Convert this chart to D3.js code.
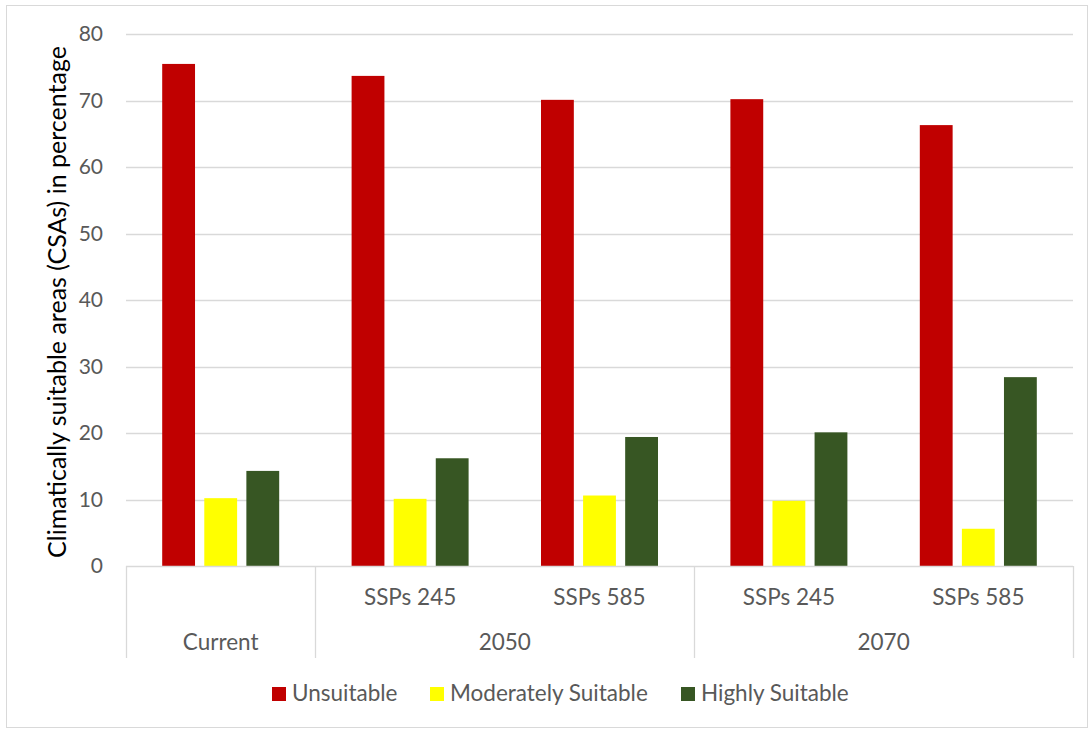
<!DOCTYPE html>
<html>
<head>
<meta charset="utf-8">
<script src="https://cdn.jsdelivr.net/npm/d3@7"></script>
<style>
  body { margin: 0; background: #fff; }
  text { font-family: Lato, 'Open Sans', sans-serif; fill: #595959; }
</style>
</head>
<body>
<svg id="chart" width="1090" height="730"></svg>
<script>
// data
const periods = ['Current', '2050', '2050', '2070', '2070'];
const scenarios = ['', 'SSPs 245', 'SSPs 585', 'SSPs 245', 'SSPs 585'];
const seriesNames = ['Unsuitable', 'Moderately Suitable', 'Highly Suitable'];
const seriesColors = ['#c00000', '#ffff00', '#375623'];
const unsuitable = [75.5, 73.7, 70.1, 70.2, 66.3];
const moderately = [10.2, 10.1, 10.6, 9.8, 5.6];
const highly = [14.3, 16.2, 19.4, 20.1, 28.4];
const yTicks = [0, 10, 20, 30, 40, 50, 60, 70, 80];

const svg = d3.select('#chart');
const margin = { top: 34, right: 17, bottom: 164, left: 126 };
const width = 1090 - margin.left - margin.right;
const height = 730 - margin.top - margin.bottom;

// outer frame
svg.append('rect').attr('x', 6.5).attr('y', 5.5).attr('width', 1081).attr('height', 722)
  .attr('fill', '#fff').attr('stroke', '#d9d9d9');

const g = svg.append('g').attr('transform', 'translate(' + margin.left + ',' + margin.top + ')');

const idx = d3.range(unsuitable.length);
const x0 = d3.scaleBand().domain(idx).range([0, width]);
const x1 = d3.scaleBand().domain(d3.range(seriesNames.length)).range([0, 117]).paddingInner(0.22);
const y = d3.scaleLinear().domain([0, 80]).range([height, 0]);

// gridlines
g.append('g').selectAll('line').data(yTicks.filter(d => d > 0)).join('line')
  .attr('x1', 0).attr('x2', width)
  .attr('y1', d => Math.round(y(d)) + 0.5).attr('y2', d => Math.round(y(d)) + 0.5)
  .attr('stroke', '#d9d9d9').attr('stroke-width', 1.3);

// y axis
const yAxis = d3.axisLeft(y).tickValues(yTicks).tickSize(0).tickPadding(23);
const ya = g.append('g').call(yAxis);
ya.select('.domain').remove();
ya.selectAll('text').style('font-family', 'Lato, sans-serif').style('font-size', '21px').attr('fill', '#595959');

// bars
const series = [unsuitable, moderately, highly];
const groups = g.append('g').selectAll('g').data(idx).join('g')
  .attr('transform', i => 'translate(' + (x0(i) + (x0.bandwidth() - 117) / 2) + ',0)');
groups.selectAll('rect').data(i => series.map((s, k) => ({ k: k, v: s[i] }))).join('rect')
  .attr('x', d => x1(d.k)).attr('width', x1.bandwidth())
  .attr('y', d => y(d.v)).attr('height', d => height - y(d.v))
  .attr('fill', d => seriesColors[d.k]);

// category axis (two levels)
const axisG = g.append('g').attr('transform', 'translate(0,' + height + ')');
axisG.append('line').attr('x1', 0).attr('x2', width).attr('y1', 0.5).attr('y2', 0.5)
  .attr('stroke', '#d9d9d9').attr('stroke-width', 1.3);
const dividers = [0, 1, 3, 5];
axisG.selectAll('line.div').data(dividers).join('line').attr('class', 'div')
  .attr('x1', d => Math.round(d === 5 ? width : x0(d)) + 0.5)
  .attr('x2', d => Math.round(d === 5 ? width : x0(d)) + 0.5)
  .attr('y1', 0).attr('y2', 92)
  .attr('stroke', '#d9d9d9').attr('stroke-width', 1.3);
axisG.selectAll('text.sub').data(idx.filter(i => scenarios[i])).join('text').attr('class', 'sub')
  .attr('x', i => x0(i) + x0.bandwidth() / 2).attr('y', 39)
  .attr('text-anchor', 'middle').style('font-size', '22.5px')
  .text(i => scenarios[i]);
const periodGroups = d3.groups(idx, i => periods[i]);
axisG.selectAll('text.per').data(periodGroups).join('text').attr('class', 'per')
  .attr('x', d => (x0(d[1][0]) + x0(d[1][d[1].length - 1]) + x0.bandwidth()) / 2)
  .attr('y', 84).attr('text-anchor', 'middle').style('font-size', '22.5px')
  .text(d => d[0]);

// y label
svg.append('text')
  .attr('transform', 'translate(66,' + (margin.top + height / 2 + 2) + ') rotate(-90)')
  .attr('text-anchor', 'middle').style('font-size', '25px')
  .style('fill', '#000')
  .text('Climatically suitable areas (CSAs) in percentage');

// legend
const legendX = [272, 430, 681];
const leg = svg.append('g').selectAll('g').data(seriesNames).join('g')
  .attr('transform', (d, i) => 'translate(' + legendX[i] + ',687)');
leg.append('rect').attr('width', 14).attr('height', 14).attr('fill', (d, i) => seriesColors[i]);
leg.append('text').attr('x', 20).attr('y', 14).style('font-size', '22.5px').text(d => d);
</script>
</body>
</html>
